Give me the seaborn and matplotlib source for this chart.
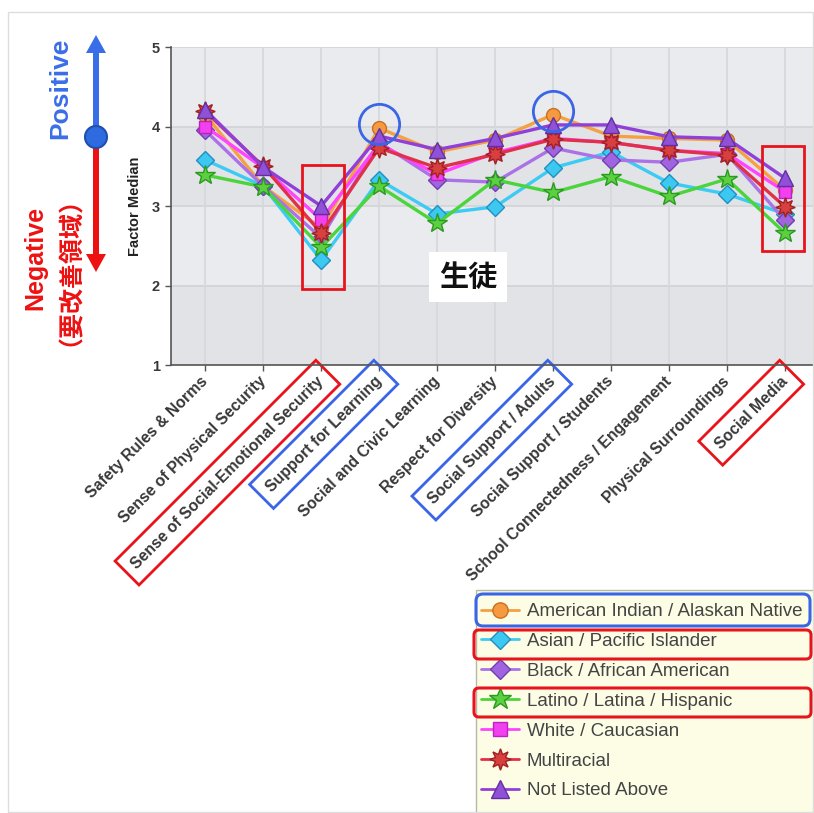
import matplotlib
matplotlib.use("Agg")
import matplotlib.pyplot as plt
import seaborn as sns
import pandas as pd
from matplotlib.patches import FancyBboxPatch, Rectangle, FancyArrow, Circle
from matplotlib.lines import Line2D

categories = ["Safety Rules & Norms", "Sense of Physical Security",
              "Sense of Social-Emotional Security", "Support for Learning",
              "Social and Civic Learning", "Respect for Diversity",
              "Social Support / Adults", "Social Support / Students",
              "School Connectedness / Engagement", "Physical Surroundings",
              "Social Media"]

groups = ["American Indian / Alaskan Native", "Asian / Pacific Islander",
          "Black / African American", "Latino / Latina / Hispanic",
          "White / Caucasian", "Multiracial", "Not Listed Above"]

amer_indian = [4.15, 3.25, 2.72, 3.98, 3.68, 3.83, 4.15, 3.88, 3.85, 3.83, 3.20]
asian       = [3.58, 3.25, 2.32, 3.33, 2.90, 2.99, 3.48, 3.68, 3.29, 3.15, 2.90]
black       = [3.95, 3.25, 2.60, 3.80, 3.33, 3.30, 3.73, 3.58, 3.55, 3.65, 2.82]
latino      = [3.39, 3.24, 2.48, 3.25, 2.78, 3.33, 3.17, 3.37, 3.12, 3.34, 2.66]
white       = [4.00, 3.48, 2.83, 3.78, 3.40, 3.67, 3.85, 3.80, 3.70, 3.66, 3.18]
multiracial = [4.19, 3.50, 2.66, 3.73, 3.48, 3.65, 3.84, 3.80, 3.70, 3.64, 2.99]
not_listed  = [4.21, 3.49, 3.00, 3.88, 3.71, 3.85, 4.02, 4.02, 3.87, 3.85, 3.35]

series = [amer_indian, asian, black, latino, white, multiracial, not_listed]

line_colors = ["#f5a142", "#3ccbf4", "#ab72e8", "#4cd43c", "#ff44ff", "#e0304a", "#9040d8"]
face_colors = ["#f59a40", "#3cc8f0", "#a064e0", "#5cd040", "#f040f0", "#d84040", "#9050d8"]
edge_colors = ["#c87020", "#2090c0", "#7040b0", "#2a9a20", "#c020c0", "#a02020", "#6030a0"]
markers = ["o", "D", "D", "*", "s", (8, 1, 0), "^"]
msizes = [10, 9, 9, 15, 9, 14, 12]

rows = []
for g, vals in zip(groups, series):
    for i, v in enumerate(vals):
        rows.append({"group": g, "x": i, "value": v})
df = pd.DataFrame(rows)

sns.set_theme(style="white")
plt.rcParams['font.family'] = ['Liberation Sans', 'Noto Sans CJK JP', 'DejaVu Sans']

W, H = 814, 813
fig = plt.figure(figsize=(W / 100, H / 100), dpi=100)
fig.patch.set_facecolor("white")

ax = fig.add_axes([171 / W, 1 - 365 / H, (W - 171) / W, (365 - 47) / H])
ax.set_facecolor("#eaebee")
ax.set_xlim(-0.59, 10.5)
ax.set_ylim(1, 5)
for lo in (1, 3):
    ax.axhspan(lo, lo + 1, color="#e2e3e6", zorder=0, lw=0)
for yv in range(1, 6):
    ax.axhline(yv, color="#d2d3d7", lw=1.2, zorder=0.5)
for xv in range(len(categories)):
    ax.axvline(xv, color="#d6d7db", lw=1.2, zorder=0.5)

for k, g in enumerate(groups):
    sub = df[df["group"] == g]
    sns.lineplot(data=sub, x="x", y="value", ax=ax, color=line_colors[k],
                 lw=2.4, marker=markers[k], markersize=msizes[k],
                 markerfacecolor=face_colors[k], markeredgecolor=edge_colors[k],
                 markeredgewidth=1.0, sort=False, legend=False, zorder=3 + k,
                 estimator=None)

ax.set_xticks(range(len(categories)))
ax.set_xticklabels(categories, rotation=45, ha="right", va="center",
                   rotation_mode="anchor", fontsize=11.3, fontweight="bold",
                   color="#383838")
ax.set_yticks([1, 2, 3, 4, 5])
ax.set_yticklabels(["1", "2", "3", "4", "5"], fontsize=10.5, fontweight="bold",
                   color="#383838")
ax.tick_params(axis="x", length=4, width=1, color="#555", pad=6, bottom=True)
ax.tick_params(axis="y", length=4, width=1, color="#555", pad=4, left=True)
ax.set_xlabel("")
ax.set_ylabel("Factor Median", fontsize=10.5, fontweight="bold", color="#222",
              labelpad=7)
for s in ("top", "right"):
    ax.spines[s].set_visible(False)
ax.spines["left"].set_color("#555")
ax.spines["bottom"].set_color("#555")
ax.spines["left"].set_linewidth(1.2)
ax.spines["bottom"].set_linewidth(1.2)

# highlight tick labels
box_cols = {2: "#e8141c", 3: "#3a66e6", 6: "#3a66e6", 10: "#e8141c"}
for i, lab in enumerate(ax.get_xticklabels()):
    if i in box_cols:
        lab.set_bbox(dict(boxstyle="square,pad=0.6", facecolor="none",
                          edgecolor=box_cols[i], lw=2))

# highlight circles around American Indian peaks
for i in (3, 6):
    ax.plot([i], [amer_indian[i] + 0.05], marker="o", ms=29, mfc="none",
            mec="#3a66e6", mew=2, zorder=20, clip_on=False)

# red rectangles around low columns
ax.add_patch(Rectangle((2 - 0.33, 1.95), 0.72, 1.57, fill=False,
                       edgecolor="#e8141c", lw=2, zorder=21))
ax.add_patch(Rectangle((10 - 0.40, 2.44), 0.72, 1.32, fill=False,
                       edgecolor="#e8141c", lw=2, zorder=21, clip_on=False))

# legend background (below legend)
bg = fig.add_axes([0, 0, 1, 1], zorder=4)
bg.set_xlim(0, W)
bg.set_ylim(H, 0)
bg.axis("off")
bg.patch.set_visible(False)
bg.add_patch(Rectangle((476, 590), W - 476 + 2, H - 590 + 2, facecolor="#fdfde6",
                       edgecolor="#b8b8a8", lw=1))

# legend
handles = []
for k, g in enumerate(groups):
    handles.append(Line2D([0], [0], color=line_colors[k], lw=2,
                          marker=markers[k], markersize=msizes[k] * 1.1,
                          markerfacecolor=face_colors[k],
                          markeredgecolor=edge_colors[k], markeredgewidth=1))
leg = fig.legend(handles, groups, loc="upper left",
                 bbox_to_anchor=(481 / W, 1 - 603 / H), frameon=False,
                 fontsize=13.5, labelspacing=0.68, handlelength=2.0,
                 handletextpad=0.45, borderpad=0, borderaxespad=0)
for t in leg.get_texts():
    t.set_color("#444444")

# overlay in pixel coordinates
ov = fig.add_axes([0, 0, 1, 1], zorder=10)
ov.set_xlim(0, W)
ov.set_ylim(H, 0)
ov.axis("off")
ov.patch.set_visible(False)

ov.add_patch(Rectangle((8, 12), W - 9, H - 13, fill=False, edgecolor="#dddddd", lw=1))

ov.add_patch(FancyBboxPatch((476, 594), 334, 32, boxstyle="round,pad=0,rounding_size=7",
                            fill=False, edgecolor="#3a66e6", lw=2.2))
ov.add_patch(FancyBboxPatch((474, 630), 337, 29, boxstyle="round,pad=0,rounding_size=5",
                            fill=False, edgecolor="#e8141c", lw=2.2))
ov.add_patch(FancyBboxPatch((474, 688), 337, 29, boxstyle="round,pad=0,rounding_size=5",
                            fill=False, edgecolor="#e8141c", lw=2.2))

# left arrows
ov.add_patch(FancyArrow(96, 137, 0, -102, width=6, head_width=20, head_length=18,
                        length_includes_head=True, color="#3a6ee8", lw=0))
ov.add_patch(FancyArrow(96, 137, 0, 135, width=6, head_width=20, head_length=18,
                        length_includes_head=True, color="#ee1111", lw=0))
ov.add_patch(Circle((96, 137), 11, facecolor="#2f6be0", edgecolor="#1d4fb0", lw=1.5))

ov.text(60, 88, "Positive", rotation=90, ha="center", va="center",
        fontsize=19, fontweight="bold", color="#3a6ee8")
ov.text(47, 258, "Negative\n（要改善領域）", rotation=90, ha="center", va="center",
        fontsize=18, fontweight="bold", color="#ee1111", linespacing=0.92,
        family=["Liberation Sans", "Noto Sans CJK JP"])

ov.text(468, 277, "生徒", ha="center", va="center", fontsize=21,
        fontweight="bold", color="#111111", family=["Noto Sans CJK JP"],
        bbox=dict(boxstyle="square,pad=0.35", facecolor="white", edgecolor="none"))

fig.savefig("out.png", dpi=100)
